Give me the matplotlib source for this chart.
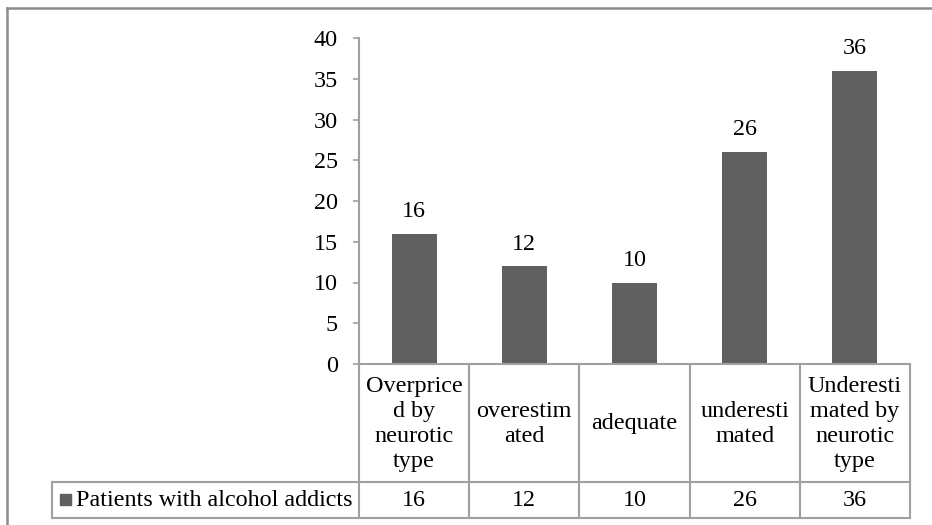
import matplotlib.pyplot as plt
from matplotlib.lines import Line2D
from matplotlib.patches import Rectangle
import matplotlib.transforms as mtrans

plt.rcParams['font.family'] = ['Liberation Serif', 'DejaVu Serif']

categories = ['Overprice\nd by\nneurotic\ntype', 'overestim\nated', 'adequate',
              'underesti\nmated', 'Underesti\nmated by\nneurotic\ntype']
values = [16, 12, 10, 26, 36]
series_name = 'Patients with alcohol addicts'
yticks = [0, 5, 10, 15, 20, 25, 30, 35, 40]

W, H = 932, 525
bar_color = '#606060'
grid_color = '#a0a0a0'
fs = 17.4

fig = plt.figure(figsize=(W / 100, H / 100), dpi=100)

def fx(px):
    return px / W

def fy(py):
    return 1 - py / H

# plot area
x0, x1, y_top, y_zero = 359, 910, 38, 364
ax = fig.add_axes([fx(x0), fy(y_zero), fx(x1 - x0), (y_zero - y_top) / H])
xs = list(range(len(values)))
bars = ax.bar(xs, values, width=0.41, color=bar_color)
ax.set_xlim(-0.5, len(values) - 0.5)
ax.set_ylim(0, 40)
ax.set_yticks(yticks)
ax.set_xticks([])
for s in ['top', 'right']:
    ax.spines[s].set_visible(False)
for s in ['left', 'bottom']:
    ax.spines[s].set_color(grid_color)
    ax.spines[s].set_linewidth(1.5)
ax.tick_params(axis='y', direction='out', length=4.3, width=1.2, color=grid_color,
               labelsize=fs, pad=11)

for x, v in zip(xs, values):
    ax.annotate(str(v), (x, v), xytext=(0, 12), textcoords='offset points',
                ha='center', va='baseline', fontsize=fs)

# data table under the plot
tr = mtrans.blended_transform_factory(ax.transData, fig.transFigure)
row1, row2 = 482, 518
lw = 1.5
for i in range(len(values) + 1):
    ax.add_line(Line2D([i - 0.5, i - 0.5], [fy(y_zero), fy(row2)], transform=tr,
                       color=grid_color, lw=lw, clip_on=False))
for yy in [row1, row2]:
    fig.add_artist(Line2D([fx(52), fx(x1)], [fy(yy), fy(yy)], color=grid_color, lw=lw))
fig.add_artist(Line2D([fx(52), fx(52)], [fy(row1), fy(row2)], color=grid_color, lw=lw))

for x, c, v in zip(xs, categories, values):
    ax.text(x, fy((y_zero + row1) / 2 + 1), c, transform=tr, ha='center', va='center',
            fontsize=fs, linespacing=1.26, clip_on=False)
    ax.text(x, fy((row1 + row2) / 2), str(v), transform=tr, ha='center', va='center',
            fontsize=fs, clip_on=False)

# legend key in the table
fig.add_artist(Rectangle((fx(60), fy(505)), fx(11), 11 / H, color=bar_color))
fig.text(fx(76), fy((row1 + row2) / 2), series_name, ha='left', va='center', fontsize=fs)

# chart frame
frame = '#8c8c8c'
fig.add_artist(Line2D([fx(6.5), 1.01], [fy(8), fy(8)], color=frame, lw=1.8))
fig.add_artist(Line2D([fx(6.5), fx(6.5)], [fy(8), -0.01], color=frame, lw=1.8))

fig.savefig('out.png', dpi=100)
